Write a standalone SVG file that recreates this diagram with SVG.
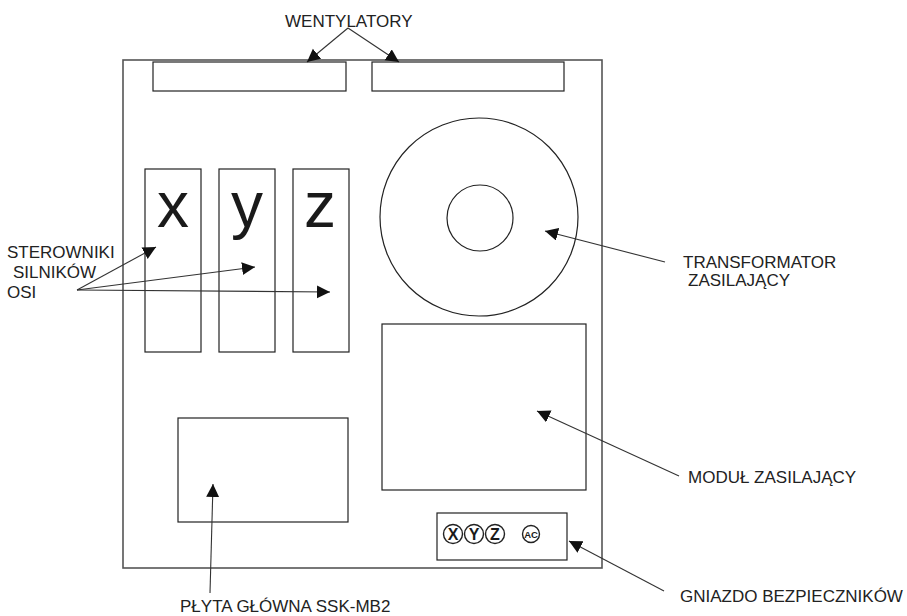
<svg xmlns="http://www.w3.org/2000/svg" width="907" height="616" viewBox="0 0 907 616">
<style>
  .box{fill:none;stroke:#222;stroke-width:1.2}
  .outer{fill:none;stroke:#555;stroke-width:1.6}
  .lbl{font-family:"Liberation Sans",Arial,sans-serif;font-size:17px;fill:#222}
  .big{font-family:"Liberation Sans",Arial,sans-serif;font-size:64px;fill:#1a1a1a;text-anchor:middle}
  .conn line{stroke:#333;stroke-width:1.1;marker-end:url(#ah)}
  .fc{fill:none;stroke:#222;stroke-width:1.4}
  .fl{font-family:"Liberation Sans",Arial,sans-serif;font-weight:bold;fill:#1a1a1a;text-anchor:middle}
</style>
<defs>
  <marker id="ah" markerUnits="userSpaceOnUse" markerWidth="14" markerHeight="14" refX="13" refY="6.5" orient="auto">
    <path d="M0,0 L13,6.5 L0,13 z" fill="#111"/>
  </marker>
</defs>
<rect width="907" height="616" fill="#fff"/>
<g id="cabinet"><rect class="outer" x="123" y="60" width="479" height="508"/></g>
<g id="fan1"><rect class="box" x="153" y="62" width="193" height="29"/></g>
<g id="fan2"><rect class="box" x="372" y="62" width="192" height="29"/></g>
<g id="driver-x"><rect class="box" x="145" y="169" width="56" height="183"/><text class="big" x="173" y="227">x</text></g>
<g id="driver-y"><rect class="box" x="219" y="169" width="56" height="183"/><text class="big" x="247" y="227">y</text></g>
<g id="driver-z"><rect class="box" x="293" y="169" width="56" height="183"/><text class="big" x="320" y="227">z</text></g>
<g id="transformer"><circle class="box" cx="479" cy="217" r="99"/><circle class="box" cx="480" cy="218" r="33"/></g>
<g id="power-module"><rect class="box" x="382" y="324" width="204" height="166"/></g>
<g id="mainboard"><rect class="box" x="178" y="418" width="170" height="104"/></g>
<g id="fuse-socket">
  <rect class="box" x="437" y="513" width="130" height="47"/>
  <circle class="fc" cx="453" cy="534" r="9.5"/><text class="fl" x="453" y="540" font-size="16">X</text>
  <circle class="fc" cx="474" cy="534" r="9.5"/><text class="fl" x="474" y="540" font-size="16">Y</text>
  <circle class="fc" cx="495" cy="534" r="9.5"/><text class="fl" x="495" y="540" font-size="16">Z</text>
  <circle class="fc" cx="531" cy="534" r="8.5"/><text class="fl" x="531" y="537.5" font-size="9.5">AC</text>
</g>
<g id="labels">
  <text class="lbl" x="285" y="27">WENTYLATORY</text>
  <text class="lbl" x="7" y="258">STEROWNIKI</text>
  <text class="lbl" x="13" y="278">SILNIKÓW</text>
  <text class="lbl" x="7" y="298">OSI</text>
  <text class="lbl" x="683" y="268">TRANSFORMATOR</text>
  <text class="lbl" x="688" y="286">ZASILAJĄCY</text>
  <text class="lbl" x="688" y="483">MODUŁ ZASILAJĄCY</text>
  <text class="lbl" x="680" y="602">GNIAZDO BEZPIECZNIKÓW</text>
  <text class="lbl" x="180" y="612">PŁYTA GŁÓWNA SSK-MB2</text>
</g>
<g id="connectors" class="conn">
  <line x1="348" y1="28" x2="307" y2="62"/>
  <line x1="348" y1="28" x2="399" y2="62"/>
  <line x1="77" y1="290" x2="156" y2="247"/>
  <line x1="77" y1="290" x2="255" y2="267"/>
  <line x1="77" y1="290" x2="330" y2="292"/>
  <line x1="665" y1="262" x2="545" y2="231"/>
  <line x1="679" y1="476" x2="537" y2="411"/>
  <line x1="210" y1="593" x2="213" y2="484"/>
  <line x1="664" y1="591" x2="569" y2="541"/>
</g>
</svg>
